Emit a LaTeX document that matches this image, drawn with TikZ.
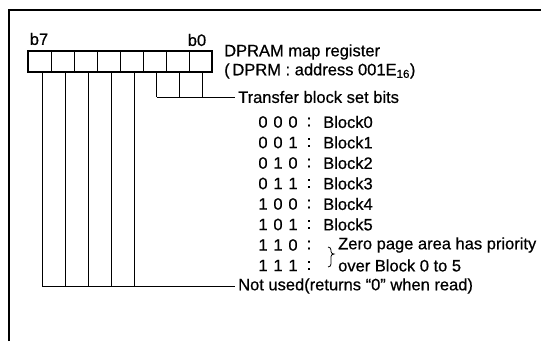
\documentclass[tikz,border=0pt]{standalone}
\usepackage{fontspec}
\setmainfont[FakeBold=0.6]{Liberation Sans}
\begin{document}
\begin{tikzpicture}[x=1pt,y=-1pt,
  txt/.style={inner sep=0pt, anchor=west, font=\fontsize{16.5}{19}\selectfont},
  lbl/.style={inner sep=0pt, anchor=center, font=\fontsize{16.5}{19}\selectfont},
  cell/.style={draw, line width=0.8pt, minimum width=23pt, minimum height=21pt, inner sep=0pt, outer sep=0pt},
  wire/.style={line width=1pt},
  frame/.style={line width=1.6pt}]
\useasboundingbox (0,0) rectangle (541,341);
\draw[frame] (9,341) -- (9,10) -- (541,10);
% register cells c7 (left) .. c0 (right)
\foreach \i in {0,...,7} {
  \node[cell] (c\i) at ({200.5-23*\i},61.5) {};
}
\draw[line width=1.6pt] (c7.north west) rectangle (c0.south east);
\node[lbl] (b7) at (39,39) {b7};
\node[lbl] (b0) at (197,40) {b0};
\node[txt] (title) at (224,52) {DPRAM map register};
\node[txt] (addr) at (224,71) {(\,DPRM : address 001E\textsubscript{16})};
% transfer block set bits
\node[txt] (tb) at (238,97) {Transfer block set bits};
\foreach \i in {2,1} {
  \draw[wire] ([xshift=2pt]c\i.south) -- ([xshift=2pt]c\i.south |- tb.west);
}
\draw[wire] ([xshift=2pt]c2.south |- tb.west) -- ([xshift=-3pt]tb.west);
\draw[wire] ([xshift=2pt]c0.south) -- ([xshift=2pt]c0.south |- tb.west);
% code rows
\foreach \a/\b/\c/\t [count=\k from 0] in {0/0/0/Block0,0/0/1/Block1,0/1/0/Block2,0/1/1/Block3,1/0/0/Block4,1/0/1/Block5,1/1/0/,1/1/1/} {
  \pgfmathsetmacro{\yy}{122+20.5*\k}
  \node[lbl] (d1\k) at (263,\yy) {\a};
  \node[lbl] (d2\k) at (278,\yy) {\b};
  \node[lbl] (d3\k) at (293,\yy) {\c};
  \node[lbl] (col\k) at (309,\yy) {:};
  \node[txt] (blk\k) at (323,\yy) {\t};
}
\node[txt] (zp1) at (338,245) {Zero page area has priority};
\node[txt] (zp2) at (338,265.5) {over Block 0 to 5};
\draw[line width=0.8pt] (328,247) to[out=0,in=90] (331,250) -- (331,251.5) to[out=-90,in=180] (334,254) to[out=180,in=90] (331,256.5) -- (331,264) to[out=-90,in=0] (328,267);
% not used
\node[txt] (nu) at (238,286) {Not used(returns “0” when read)};
\foreach \i in {3,...,7} {
  \draw[wire] ([xshift=2.5pt]c\i.south) -- ([xshift=2.5pt]c\i.south |- nu.west);
}
\draw[wire] ([xshift=2.5pt]c7.south |- nu.west) -- ([xshift=-3pt]nu.west);
\end{tikzpicture}
\end{document}
